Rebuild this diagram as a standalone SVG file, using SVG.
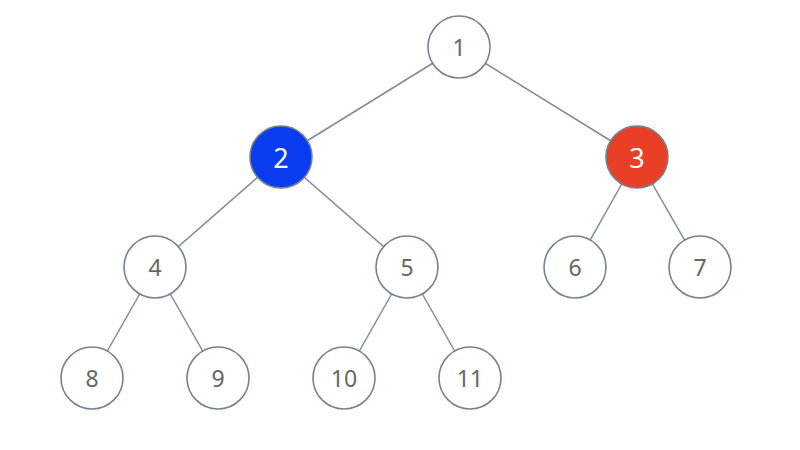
<svg xmlns="http://www.w3.org/2000/svg" width="800" height="450" viewBox="0 0 800 450">
<style>
.e{stroke:#7d8b98;stroke-width:1.5;fill:none}
.n{fill:#fff;stroke:#74828f;stroke-width:1.6}
.t{font-family:"Noto Sans","Liberation Sans",sans-serif;font-size:23px;fill:#666;text-anchor:middle;dominant-baseline:central}
.w{fill:#fff;font-size:27px}
</style>
<rect width="800" height="450" fill="#fff"/>
<g id="edges">
<line class="e" x1="459" y1="47" x2="281" y2="157"/>
<line class="e" x1="459" y1="47" x2="637" y2="157"/>
<line class="e" x1="281" y1="157" x2="155" y2="267"/>
<line class="e" x1="281" y1="157" x2="407" y2="267"/>
<line class="e" x1="637" y1="157" x2="575" y2="267"/>
<line class="e" x1="637" y1="157" x2="700" y2="267"/>
<line class="e" x1="155" y1="267" x2="92" y2="378"/>
<line class="e" x1="155" y1="267" x2="218" y2="378"/>
<line class="e" x1="407" y1="267" x2="344" y2="378"/>
<line class="e" x1="407" y1="267" x2="470" y2="378"/>
</g>
<g id="n1"><circle class="n" cx="459" cy="47" r="31"/><text class="t" x="459" y="47">1</text></g>
<g id="n2"><circle class="n" cx="281" cy="157" r="31" style="fill:#0a3cf0"/><text class="t w" x="281" y="157">2</text></g>
<g id="n3"><circle class="n" cx="637" cy="157" r="31" style="fill:#ea3f27"/><text class="t w" x="637" y="157">3</text></g>
<g id="n4"><circle class="n" cx="155" cy="267" r="31"/><text class="t" x="155" y="267">4</text></g>
<g id="n5"><circle class="n" cx="407" cy="267" r="31"/><text class="t" x="407" y="267">5</text></g>
<g id="n6"><circle class="n" cx="575" cy="267" r="31"/><text class="t" x="575" y="267">6</text></g>
<g id="n7"><circle class="n" cx="700" cy="267" r="31"/><text class="t" x="700" y="267">7</text></g>
<g id="n8"><circle class="n" cx="92" cy="378" r="31"/><text class="t" x="92" y="378">8</text></g>
<g id="n9"><circle class="n" cx="218" cy="378" r="31"/><text class="t" x="218" y="378">9</text></g>
<g id="n10"><circle class="n" cx="344" cy="378" r="31"/><text class="t" x="344" y="378">10</text></g>
<g id="n11"><circle class="n" cx="470" cy="378" r="31"/><text class="t" x="470" y="378">11</text></g>
</svg>
